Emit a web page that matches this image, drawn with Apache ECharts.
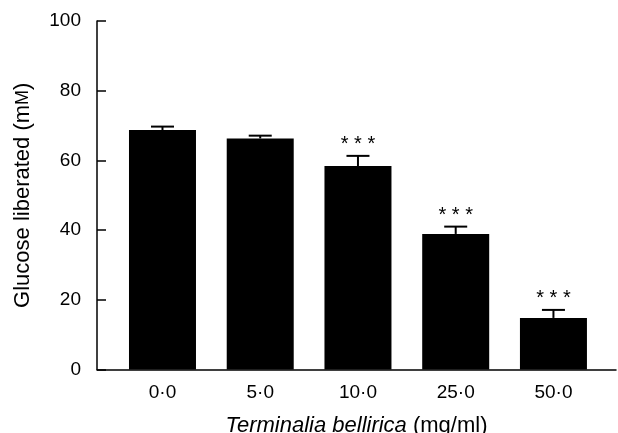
<!DOCTYPE html>
<html>
<head>
<meta charset="utf-8">
<script src="https://cdn.jsdelivr.net/npm/echarts@6/dist/echarts.min.js"></script>
<style>html,body{margin:0;padding:0;background:#fff}#c{width:618px;height:433px}</style>
</head>
<body>
<div id="c"></div>
<script>
var categories = ['0·0', '5·0', '10·0', '25·0', '50·0'];
var means = [68.7, 66.3, 58.4, 38.9, 14.8];
var errors = [1.0, 0.8, 2.9, 2.1, 2.3];
var stars = ['', '', '***', '***', '***'];

var FONT = 'Liberation Sans, Arial, Helvetica, sans-serif';
var chart = echarts.init(document.getElementById('c'));

var barData = means.map(function (m, i) { return [i, m]; });
var errData = means.map(function (m, i) { return [i, m, errors[i]]; });

chart.setOption({
  animation: false,
  grid: { left: 97, right: 2, top: 21, bottom: 63.5, containLabel: false, outerBoundsMode: 'none' },
  xAxis: {
    type: 'value',
    min: -0.67,
    max: 4.64,
    splitLine: { show: false },
    axisLine: { show: true, onZero: false, lineStyle: { color: '#000', width: 1.5 } },
    axisTick: { show: false },
    axisLabel: {
      show: true,
      customValues: [0, 1, 2, 3, 4],
      formatter: function (v) { return categories[Math.round(v)]; },
      color: '#000', fontSize: 19, fontFamily: FONT, margin: 14
    },
    name: '{i|Terminalia bellirica} (mg/ml)',
    nameLocation: 'middle',
    nameGap: 45,
    nameTextStyle: {
      color: '#000', fontSize: 22, fontFamily: FONT,
      rich: { i: { fontStyle: 'italic', fontSize: 22, fontFamily: FONT, color: '#000' } }
    }
  },
  yAxis: {
    type: 'value',
    min: 0, max: 100, interval: 20,
    splitLine: { show: false },
    axisLine: { show: true, onZero: false, lineStyle: { color: '#000', width: 1.5 } },
    axisTick: { show: true, inside: true, length: 9, lineStyle: { color: '#000', width: 1.5 } },
    axisLabel: { color: '#000', fontSize: 19, fontFamily: FONT, margin: 16 },
    name: 'Glucose liberated (m{s|M})',
    nameLocation: 'middle',
    nameGap: 63,
    nameTextStyle: {
      color: '#000', fontSize: 22, fontFamily: FONT,
      rich: { s: { fontSize: 18, fontFamily: FONT, color: '#000' } }
    }
  },
  series: [
    {
      type: 'bar',
      data: barData,
      barWidth: 67,
      itemStyle: { color: '#000' }
    },
    {
      type: 'custom',
      data: errData,
      z: 3,
      renderItem: function (params, api) {
        var x = api.value(0), m = api.value(1), e = api.value(2);
        var s = stars[params.dataIndex];
        var p0 = api.coord([x, m]);
        var p1 = api.coord([x, m + e]);
        var half = 11.5;
        var style = { stroke: '#000', lineWidth: 2 };
        var children = [
          { type: 'line', shape: { x1: p0[0], y1: p0[1], x2: p1[0], y2: p1[1] }, style: style },
          { type: 'line', shape: { x1: p1[0] - half, y1: p1[1], x2: p1[0] + half, y2: p1[1] }, style: style }
        ];
        if (s) {
          children.push({
            type: 'text',
            style: {
              text: s.split('').join(' '), x: p1[0], y: p1[1] - 1,
              align: 'center', verticalAlign: 'bottom',
              fontSize: 20, fontFamily: FONT, fill: '#000'
            }
          });
        }
        return { type: 'group', children: children };
      }
    }
  ]
});
</script>
</body>
</html>
